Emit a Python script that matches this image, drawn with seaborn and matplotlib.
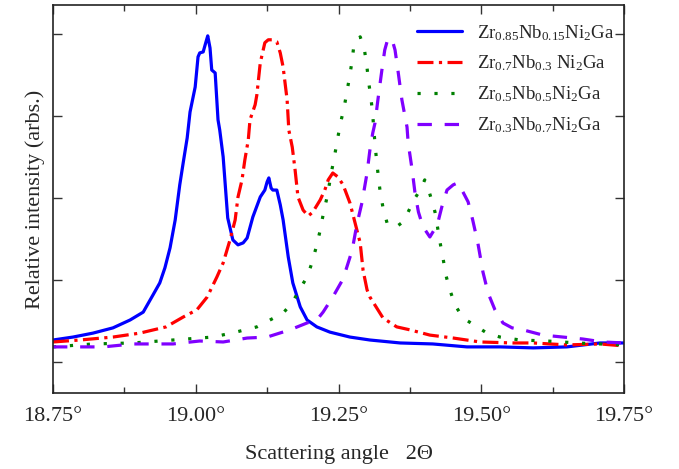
import matplotlib
matplotlib.use("Agg")
import matplotlib.pyplot as plt
import seaborn as sns
import numpy as np
import pandas as pd
from matplotlib.ticker import MultipleLocator, FixedLocator

# --- data (angle in deg 2theta, relative intensity) ---
labels = [
    r"Zr$_{0.85}$Nb$_{0.15}$Ni$_2$Ga",
    r"Zr$_{0.7}$Nb$_{0.3}$ Ni$_2$Ga",
    r"Zr$_{0.5}$Nb$_{0.5}$Ni$_2$Ga",
    r"Zr$_{0.3}$Nb$_{0.7}$Ni$_2$Ga",
]

angle_085 = [18.750, 18.785, 18.820, 18.855, 18.885, 18.908, 18.925, 18.937, 18.946, 18.955,
             18.964, 18.972, 18.978, 18.985, 18.990, 18.999, 19.004, 19.007, 19.013, 19.018,
             19.021, 19.025, 19.028, 19.034, 19.039, 19.042, 19.048, 19.056, 19.065, 19.074,
             19.083, 19.090, 19.100, 19.113, 19.121, 19.125, 19.128, 19.132, 19.135, 19.142,
             19.148, 19.153, 19.162, 19.170, 19.183, 19.195, 19.212, 19.235, 19.270, 19.305,
             19.358, 19.415, 19.475, 19.533, 19.591, 19.650, 19.708, 19.750]
inten_085 = [6.7, 7.6, 8.8, 10.4, 12.8, 15.2, 20.4, 24.1, 28.7, 34.8,
             43.3, 54.0, 60.7, 68.3, 76.2, 83.8, 93.0, 94.2, 94.5, 97.6,
             99.4, 95.7, 89.0, 88.1, 73.8, 70.7, 62.5, 43.9, 37.2, 35.7,
             36.3, 37.8, 44.2, 50.3, 52.4, 54.9, 56.1, 53.0, 52.4, 52.4,
             47.9, 43.3, 32.0, 24.1, 16.8, 12.8, 10.7, 9.1, 7.6, 6.7,
             5.8, 5.5, 4.6, 4.6, 4.3, 4.6, 5.8, 5.8]

angle_07 = [18.750, 18.797, 18.855, 18.902, 18.948, 18.978, 19.002, 19.020, 19.037, 19.048,
            19.060, 19.069, 19.074, 19.081, 19.086, 19.092, 19.095, 19.104, 19.107, 19.113,
            19.121, 19.127, 19.134, 19.142, 19.148, 19.153, 19.160, 19.163, 19.169, 19.174,
            19.179, 19.188, 19.197, 19.205, 19.218, 19.226, 19.232, 19.240, 19.249, 19.258,
            19.270, 19.279, 19.288, 19.293, 19.300, 19.305, 19.328, 19.352, 19.375, 19.410,
            19.451, 19.498, 19.556, 19.591, 19.650, 19.708, 19.750]
inten_07 = [6.1, 6.7, 7.6, 8.8, 10.7, 13.7, 15.9, 19.8, 25.9, 30.2,
            37.2, 43.3, 50.3, 55.5, 61.6, 67.7, 73.8, 78.4, 81.4, 91.2,
            97.3, 98.2, 98.2, 97.6, 94.2, 89.9, 79.9, 70.7, 65.5, 58.5,
            50.3, 46.3, 44.5, 45.7, 49.4, 52.4, 55.5, 57.6, 56.4, 54.0,
            48.5, 42.4, 36.3, 28.0, 22.0, 19.8, 13.4, 10.7, 9.8, 8.2,
            7.3, 6.1, 5.8, 5.8, 5.2, 5.5, 4.9]

angle_05 = [18.750, 18.820, 18.890, 18.960, 19.030, 19.070, 19.107, 19.130, 19.153, 19.170,
            19.179, 19.195, 19.204, 19.212, 19.218, 19.223, 19.230, 19.239, 19.244, 19.249,
            19.254, 19.260, 19.265, 19.270, 19.274, 19.277, 19.282, 19.288, 19.293, 19.296,
            19.300, 19.303, 19.307, 19.310, 19.312, 19.317, 19.323, 19.328, 19.335, 19.349,
            19.363, 19.372, 19.382, 19.393, 19.401, 19.407, 19.419, 19.428, 19.433, 19.438,
            19.445, 19.454, 19.468, 19.493, 19.510, 19.533, 19.568, 19.615, 19.668, 19.708,
            19.750]
inten_05 = [4.6, 5.5, 5.8, 6.7, 7.6, 9.1, 10.7, 12.8, 14.9, 18.3,
            21.3, 25.9, 30.5, 35.7, 40.2, 44.8, 50.3, 59.1, 63.7, 68.6,
            73.2, 77.7, 82.6, 87.5, 92.1, 96.6, 98.2, 99.1, 96.6, 94.5,
            89.6, 85.1, 80.2, 75.3, 70.4, 60.7, 51.8, 47.0, 42.4, 40.9,
            42.7, 45.7, 49.4, 52.4, 55.5, 53.0, 45.7, 36.3, 31.7, 26.5,
            22.0, 17.4, 13.4, 10.7, 8.8, 7.6, 6.7, 6.4, 5.8, 5.5,
            5.2]

angle_03 = [18.750, 18.803, 18.838, 18.890, 18.960, 19.007, 19.048, 19.090, 19.125, 19.165,
            19.195, 19.212, 19.223, 19.240, 19.258, 19.274, 19.282, 19.291, 19.300, 19.305,
            19.310, 19.314, 19.319, 19.326, 19.331, 19.335, 19.340, 19.344, 19.349, 19.354,
            19.361, 19.370, 19.372, 19.379, 19.384, 19.390, 19.398, 19.410, 19.423, 19.431,
            19.440, 19.451, 19.459, 19.468, 19.477, 19.485, 19.494, 19.503, 19.512, 19.524,
            19.538, 19.554, 19.573, 19.608, 19.643, 19.678, 19.713, 19.750]
inten_03 = [4.6, 4.6, 4.6, 5.5, 5.5, 6.4, 6.1, 7.3, 7.6, 9.8,
            11.9, 12.8, 15.2, 19.8, 25.3, 34.1, 41.8, 48.5, 57.6, 64.6,
            69.8, 72.9, 79.9, 89.0, 95.1, 97.6, 98.8, 98.2, 95.1, 89.0,
            79.9, 71.6, 66.8, 58.5, 51.5, 45.7, 41.2, 38.1, 41.8, 47.3,
            52.4, 54.0, 54.6, 51.8, 48.8, 43.3, 36.3, 27.4, 21.0, 15.9,
            11.9, 10.4, 9.8, 8.2, 7.6, 7.0, 6.1, 5.8]

series = [(angle_085, inten_085), (angle_07, inten_07), (angle_05, inten_05), (angle_03, inten_03)]
colors = ["#0000ff", "#ff0000", "#008000", "#8000ff"]
styles = ["-", (0, (5, 1.7, 1, 1.7)), (0, (1, 4.3)), (0, (4.5, 4))]

x_ticks = [18.75, 19.00, 19.25, 19.50, 19.75]

sns.set_theme(style="ticks")
plt.rcParams.update({
    "font.family": ["Liberation Serif", "DejaVu Serif"],
    "mathtext.fontset": "custom",
    "mathtext.rm": "Liberation Serif",
    "mathtext.it": "Liberation Serif:italic",
    "mathtext.default": "regular",
})

fig = plt.figure(figsize=(6.79, 4.69), dpi=100)
ax = fig.add_axes([53 / 679, 76 / 469, 571 / 679, 388 / 469])

for (xs, ys), lab, c, ls in zip(series, labels, colors, styles):
    df = pd.DataFrame({"angle": xs, "intensity": ys})
    sns.lineplot(data=df, x="angle", y="intensity", ax=ax, color=c, label=lab,
                 linewidth=2.3, estimator=None, sort=False)
    ax.lines[-1].set_linestyle(ls)

ax.set_xlim(18.75, 19.75)
ax.set_ylim(-9.45, 108.8)
ax.xaxis.set_major_locator(FixedLocator(x_ticks))
ax.xaxis.set_minor_locator(MultipleLocator(0.125))
ax.set_xticklabels([f"{t:.2f}°" for t in x_ticks])
ax.yaxis.set_major_locator(FixedLocator([0, 25, 50, 75, 100]))
ax.set_yticklabels([])
ax.tick_params(which="both", direction="in", top=True, right=True, width=1.0, color="#333333")
ax.tick_params(which="major", length=6.5, labelsize=16, pad=10)
ax.tick_params(which="minor", length=4)
for s in ax.spines.values():
    s.set_linewidth(1.2)
    s.set_color("#222222")

ax.set_xlabel("Scattering angle   2Θ", fontsize=16, labelpad=14)
ax.set_ylabel("Relative intensity (arbs.)", fontsize=16, labelpad=-4)

ax.legend(loc="upper right", bbox_to_anchor=(1.015, 1.0), frameon=False, fontsize=13.5,
          handlelength=2.4, handletextpad=0.8, labelspacing=0.6, borderaxespad=0.55)

fig.savefig("out.png", dpi=100)
